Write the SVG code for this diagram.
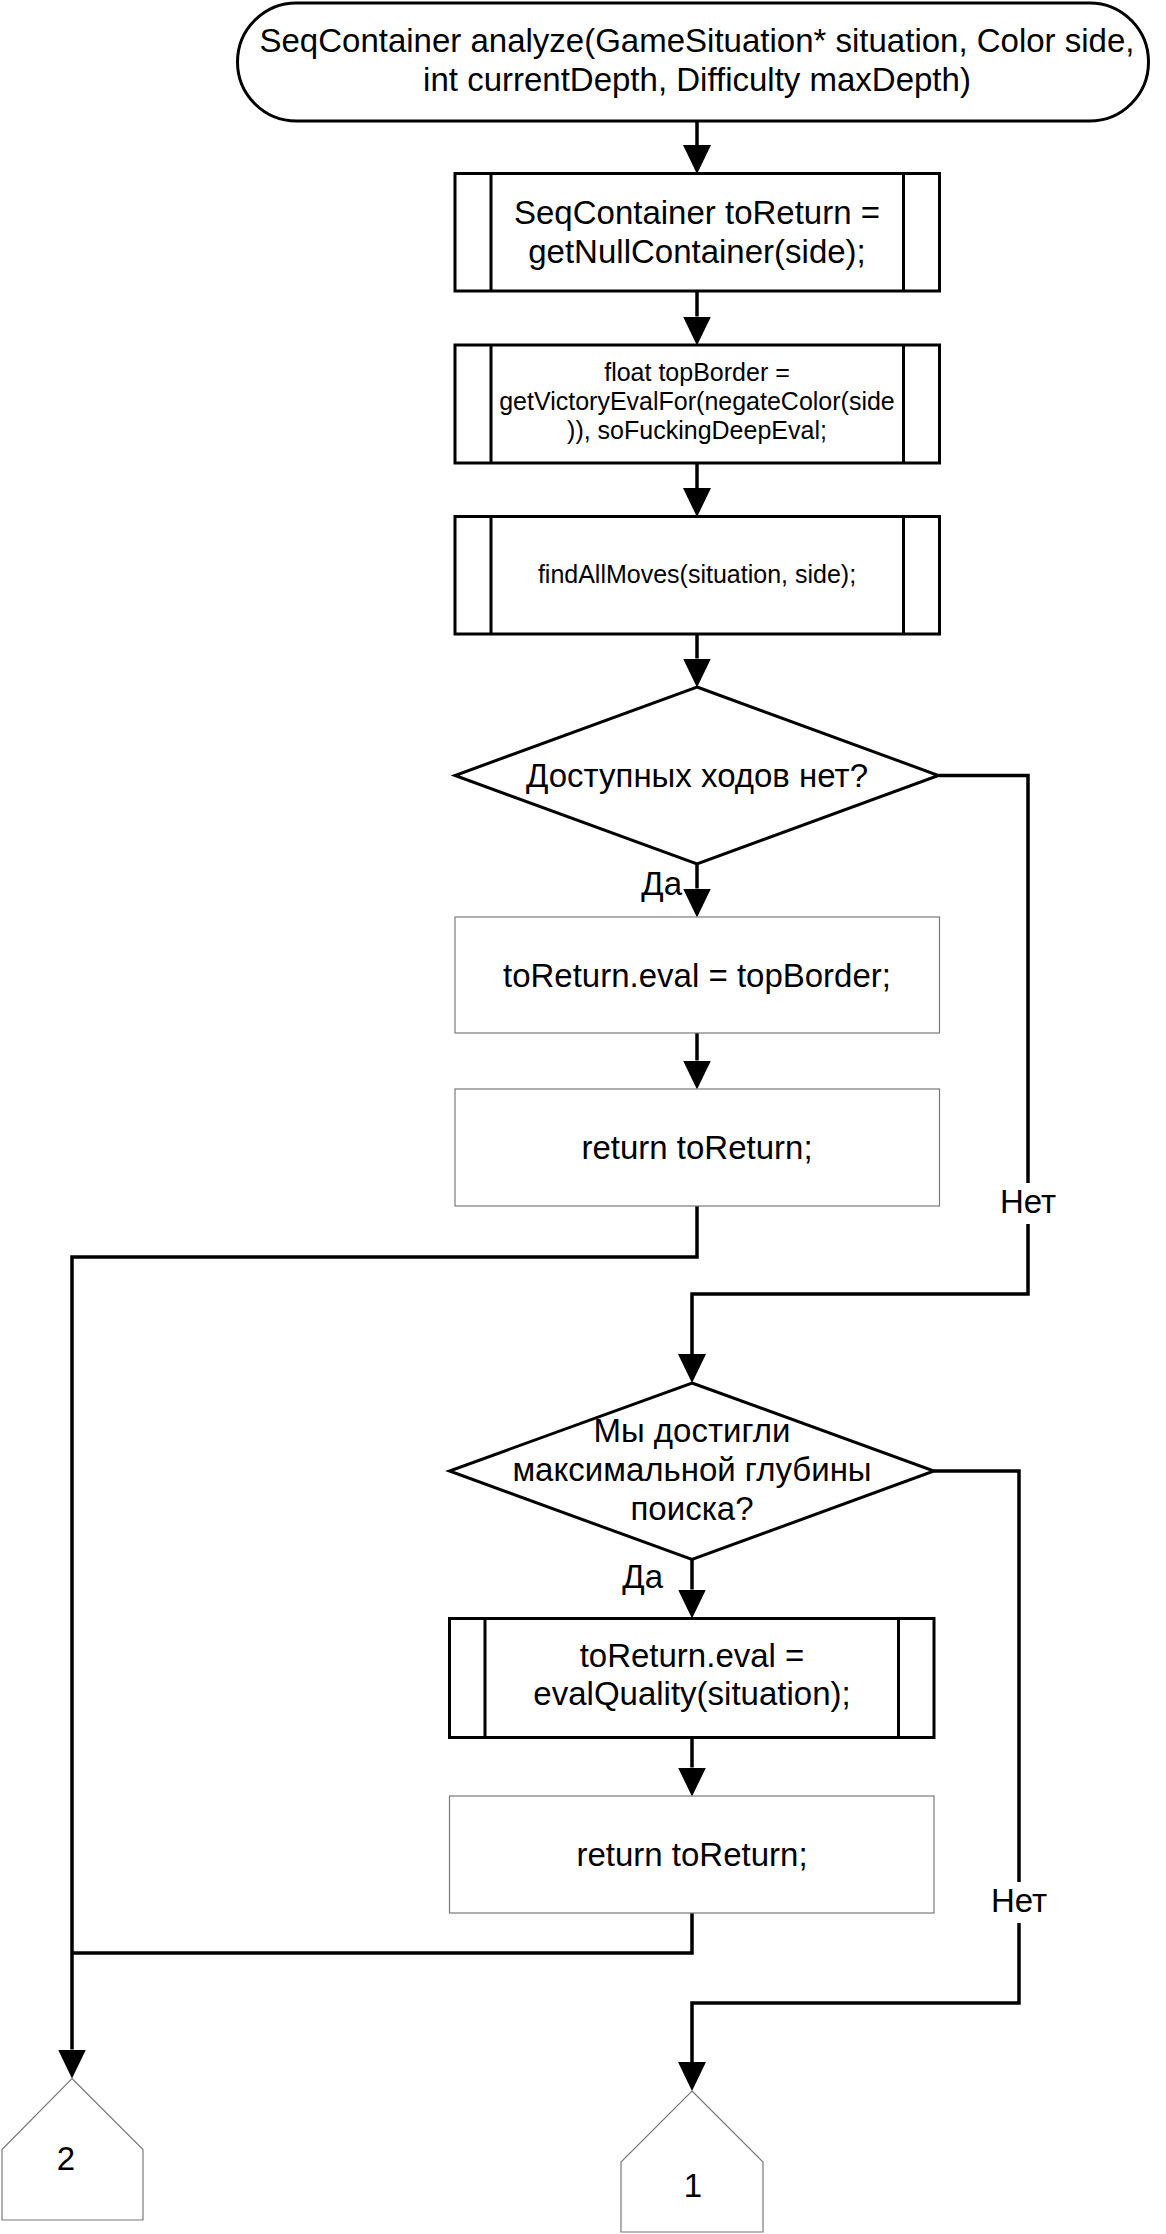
<svg xmlns="http://www.w3.org/2000/svg" width="1166" height="2234" viewBox="0 0 1166 2234">
<style>
.bg{fill:#fff}
.thick{fill:#fff;stroke:#000;stroke-width:3}
.thin{fill:#fff;stroke:#7a7a7a;stroke-width:1.2}
.sub{fill:none;stroke:#000;stroke-width:3}
.conn{fill:none;stroke:#000;stroke-width:3.5;stroke-linejoin:miter}
text{font-family:"Liberation Sans",Arial,sans-serif;fill:#000}
.t{font-size:33px;text-anchor:middle}
.s{font-size:25px;text-anchor:middle}
.l{font-size:33px}
</style>
<defs>
<marker id="arr" markerUnits="userSpaceOnUse" markerWidth="29" markerHeight="28" refX="0" refY="14" orient="auto" viewBox="0 0 29 28">
<path d="M0,0 L29,14 L0,28 Z" fill="#000"/>
</marker>
</defs>
<rect class="bg" x="0" y="0" width="1166" height="2234"/>

<g id="connectors">
<path class="conn" d="M697,121 V145" marker-end="url(#arr)"/>
<path class="conn" d="M697,291 V316.5" marker-end="url(#arr)"/>
<path class="conn" d="M697,463 V488" marker-end="url(#arr)"/>
<path class="conn" d="M697,634 V658.5" marker-end="url(#arr)"/>
<path class="conn" d="M697,864 V888.5" marker-end="url(#arr)"/>
<path class="conn" d="M697,1033 V1060.5" marker-end="url(#arr)"/>
<path class="conn" d="M697,1206 V1257 H72 V2049.5" marker-end="url(#arr)"/>
<path class="conn" d="M938.5,775.5 H1028 V1183"/>
<path class="conn" d="M1028,1224 V1294 H692 V1354" marker-end="url(#arr)"/>
<path class="conn" d="M692,1559.5 V1589.5" marker-end="url(#arr)"/>
<path class="conn" d="M692,1737.5 V1767.5" marker-end="url(#arr)"/>
<path class="conn" d="M692,1913 V1953 H72"/>
<path class="conn" d="M934,1471 H1019 V1882"/>
<path class="conn" d="M1019,1923 V2003 H692 V2062" marker-end="url(#arr)"/>
<text class="l" x="682" y="895" text-anchor="end">Да</text>
<text class="l" x="1028" y="1213" text-anchor="middle">Нет</text>
<text class="l" x="663" y="1588" text-anchor="end">Да</text>
<text class="l" x="1019" y="1912" text-anchor="middle">Нет</text>
</g>

<g id="start">
<rect class="thick" x="237.5" y="3" width="911" height="118" rx="59" ry="59"/>
<text class="t" x="697" y="52">SeqContainer analyze(GameSituation* situation, Color side,</text>
<text class="t" x="697" y="91">int currentDepth, Difficulty maxDepth)</text>
</g>

<g id="init">
<rect class="thick" x="455" y="173.5" width="484.5" height="117.5"/>
<path class="sub" d="M491,173.5 V291 M903.5,173.5 V291"/>
<text class="t" x="697" y="224">SeqContainer toReturn =</text>
<text class="t" x="697" y="263">getNullContainer(side);</text>
</g>

<g id="border">
<rect class="thick" x="455" y="345" width="484.5" height="118"/>
<path class="sub" d="M491,345 V463 M903.5,345 V463"/>
<text class="s" x="697" y="381">float topBorder =</text>
<text class="s" x="697" y="410">getVictoryEvalFor(negateColor(side</text>
<text class="s" x="697" y="439">)), soFuckingDeepEval;</text>
</g>

<g id="find">
<rect class="thick" x="455" y="516.5" width="484.5" height="117.5"/>
<path class="sub" d="M491,516.5 V634 M903.5,516.5 V634"/>
<text class="s" x="697" y="583">findAllMoves(situation, side);</text>
</g>

<g id="cond1">
<polygon class="thick" points="697,687 938.5,775.5 697,864 455,775.5"/>
<text class="t" x="697" y="787">Доступных ходов нет?</text>
</g>

<g id="setTop">
<rect class="thin" x="455" y="917" width="484.5" height="116"/>
<text class="t" x="697" y="987">toReturn.eval = topBorder;</text>
</g>

<g id="ret1">
<rect class="thin" x="455" y="1089" width="484.5" height="117"/>
<text class="t" x="697" y="1159">return toReturn;</text>
</g>

<g id="cond2">
<polygon class="thick" points="692,1383 934,1471 692,1559.5 449.5,1471"/>
<text class="t" x="692" y="1442">Мы достигли</text>
<text class="t" x="692" y="1481">максимальной глубины</text>
<text class="t" x="692" y="1520">поиска?</text>
</g>

<g id="evalQ">
<rect class="thick" x="449.5" y="1618.5" width="484.5" height="119"/>
<path class="sub" d="M485,1618.5 V1737.5 M898.5,1618.5 V1737.5"/>
<text class="t" x="692" y="1667">toReturn.eval =</text>
<text class="t" x="692" y="1705">evalQuality(situation);</text>
</g>

<g id="ret2">
<rect class="thin" x="449.5" y="1796" width="484.5" height="117"/>
<text class="t" x="692" y="1866">return toReturn;</text>
</g>

<g id="off2">
<polygon class="thin" points="72,2078.5 143,2149.5 143,2220 2,2220 2,2149.5"/>
<text class="t" x="66" y="2170">2</text>
</g>

<g id="off1">
<polygon class="thin" points="692,2091 763,2162 763,2232 621,2232 621,2162"/>
<text class="t" x="693" y="2197">1</text>
</g>
</svg>
